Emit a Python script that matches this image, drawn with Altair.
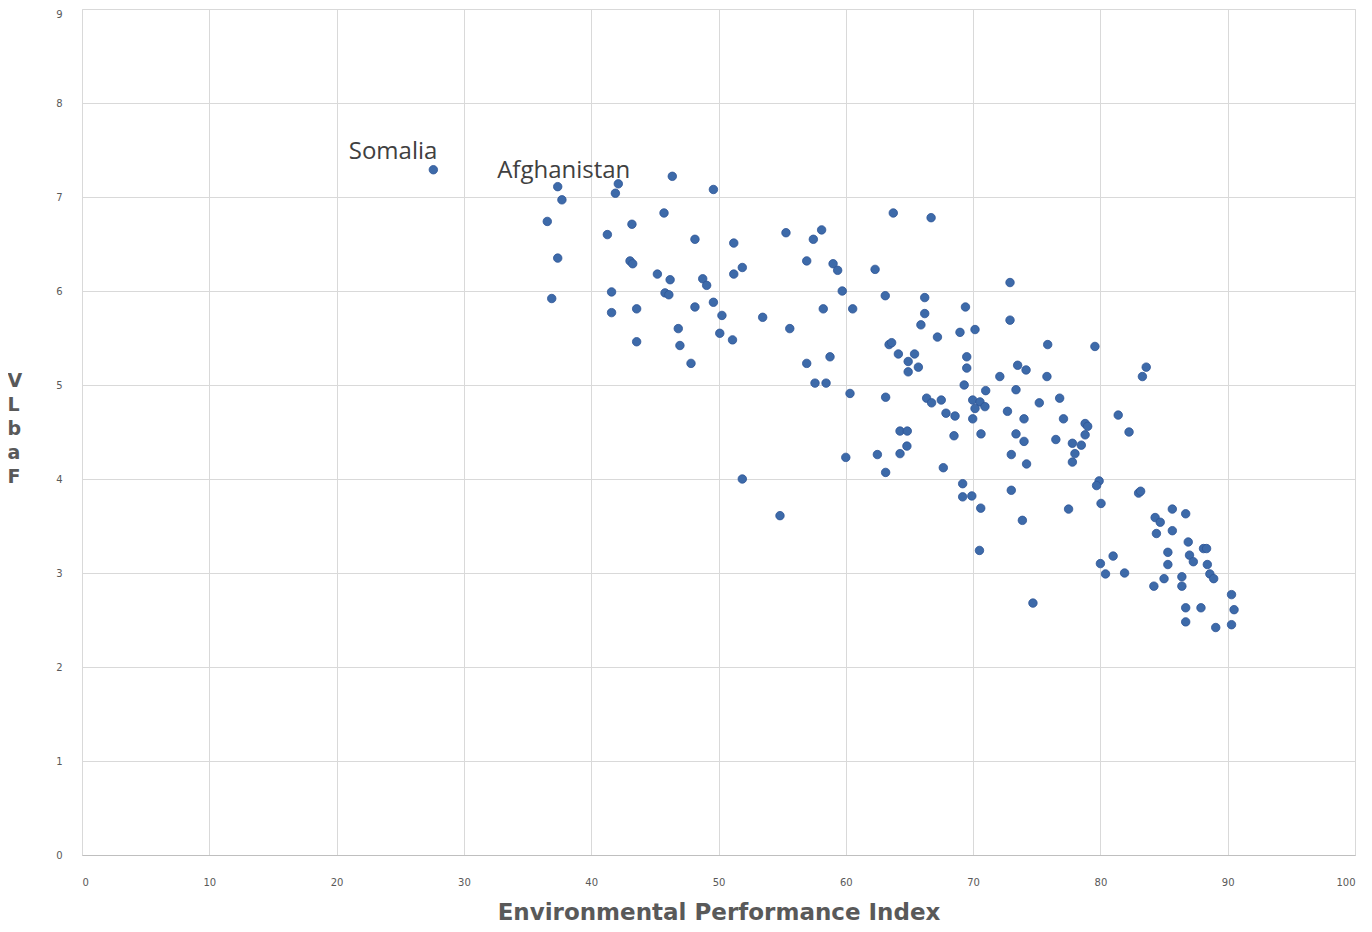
import altair as alt
import pandas as pd

# Environmental Performance Index (x) vs. index value (y)
epi = [27.6, 37.37, 37.7, 36.55, 37.37, 36.9, 42.13, 41.9, 43.2, 41.27,
       43.05, 43.26, 41.6, 43.57, 41.6, 46.37, 49.6, 45.72, 48.15, 51.2,
       45.2, 46.2, 48.76, 49.07, 51.2, 51.87, 45.8, 46.1, 48.15, 49.6,
       50.27, 53.47, 55.6, 46.84, 43.57, 46.97, 50.1, 51.1, 47.84, 55.3,
       57.45, 58.1, 56.93, 59.0, 59.36, 59.72, 60.54, 58.23, 62.3, 63.73,
       66.7, 63.1, 66.2, 66.2, 65.9, 67.2, 69.4, 68.97, 70.15, 58.76,
       56.93, 63.4, 63.6, 64.13, 64.9, 65.4, 65.7, 64.9, 57.58, 58.45,
       60.33, 63.13, 69.5, 69.5, 69.3, 66.35, 66.74, 67.5, 67.87, 68.58,
       69.97, 70.54, 70.15, 70.93, 70.99, 69.97, 72.1, 73.5, 74.16, 75.86,
       75.8, 73.37, 75.2, 72.7, 74.0, 73.37, 74.0, 73.0, 74.2, 70.62,
       68.5, 64.26, 64.83, 64.8, 64.26, 62.48, 60.0, 63.13, 67.66, 69.18,
       69.18, 69.9, 70.6, 73.0, 73.87, 70.5, 51.87, 54.83, 72.9, 72.9,
       79.57, 83.6, 83.3, 76.8, 77.1, 78.8, 79.0, 78.8, 77.8, 78.5,
       78.0, 77.8, 81.4, 82.25, 76.5, 77.5, 79.9, 79.7, 80.05, 83.0,
       83.16, 81.0, 80.0, 85.65, 86.7, 84.3, 84.7, 84.4, 85.65, 86.9,
       88.1, 88.34, 87.0, 87.3, 85.3, 85.3, 88.4, 88.6, 88.9, 80.4,
       81.9, 85.0, 84.2, 86.4, 86.4, 86.7, 87.9, 86.7, 89.06, 90.3,
       90.5, 90.3, 74.7]

value = [7.29, 7.11, 6.97, 6.74, 6.35, 5.92, 7.14, 7.04, 6.71, 6.6,
         6.32, 6.29, 5.99, 5.81, 5.77, 7.22, 7.08, 6.83, 6.55, 6.51,
         6.18, 6.12, 6.13, 6.06, 6.18, 6.25, 5.98, 5.96, 5.83, 5.88,
         5.74, 5.72, 5.6, 5.6, 5.46, 5.42, 5.55, 5.48, 5.23, 6.62,
         6.55, 6.65, 6.32, 6.29, 6.22, 6.0, 5.81, 5.81, 6.23, 6.83,
         6.78, 5.95, 5.93, 5.76, 5.64, 5.51, 5.83, 5.56, 5.59, 5.3,
         5.23, 5.43, 5.45, 5.33, 5.25, 5.33, 5.19, 5.14, 5.02, 5.02,
         4.91, 4.87, 5.3, 5.18, 5.0, 4.86, 4.81, 4.84, 4.7, 4.67,
         4.84, 4.82, 4.75, 4.77, 4.94, 4.64, 5.09, 5.21, 5.16, 5.43,
         5.09, 4.95, 4.81, 4.72, 4.64, 4.48, 4.4, 4.26, 4.16, 4.48,
         4.46, 4.51, 4.51, 4.35, 4.27, 4.26, 4.23, 4.07, 4.12, 3.95,
         3.81, 3.82, 3.69, 3.88, 3.56, 3.24, 4.0, 3.61, 6.09, 5.69,
         5.41, 5.19, 5.09, 4.86, 4.64, 4.59, 4.56, 4.47, 4.38, 4.36,
         4.27, 4.18, 4.68, 4.5, 4.42, 3.68, 3.98, 3.93, 3.74, 3.85,
         3.87, 3.18, 3.1, 3.68, 3.63, 3.59, 3.54, 3.42, 3.45, 3.33,
         3.26, 3.26, 3.19, 3.12, 3.22, 3.09, 3.09, 2.99, 2.94, 2.99,
         3.0, 2.94, 2.86, 2.96, 2.86, 2.63, 2.63, 2.48, 2.42, 2.77,
         2.61, 2.45, 2.68]

label_names = ["Somalia", "Afghanistan"]
label_epi = [27.6, 42.13]
label_value = [7.29, 7.14]

x_ticks = [0, 10, 20, 30, 40, 50, 60, 70, 80, 90, 100]
y_ticks = [0, 1, 2, 3, 4, 5, 6, 7, 8, 9]

df = pd.DataFrame({"epi": epi, "value": value})
lab = pd.DataFrame({"name": label_names, "epi": label_epi, "value": label_value})

grey = "#595959"
xs = alt.Scale(domain=[0, 100], nice=False, zero=True)
ys = alt.Scale(domain=[0, 9], nice=False, zero=True)

x_axis = alt.Axis(values=x_ticks, format="d", title="Environmental Performance Index",
                  grid=True, gridColor="#d9d9d9", ticks=False,
                  domainColor="#bfbfbf", labelColor=grey, labelFontSize=10,
                  labelFont="DejaVu Sans", labelPadding=22,
                  titleFont="DejaVu Sans", titleFontSize=23, titleFontWeight="bold",
                  titleColor=grey, titleBaseline="alphabetic", titleY=64)
y_axis = alt.Axis(values=y_ticks, format="d", title=["V", "L", "b", "a", "F"],
                  grid=True, gridColor="#d9d9d9", ticks=False, domain=False,
                  labelColor=grey, labelFontSize=10, labelFont="DejaVu Sans",
                  labelPadding=20,
                  labelBaseline={"expr": "datum.value == 9 ? 'top' : 'middle'"},
                  titleAngle=0, titleFont="DejaVu Sans",
                  titleFontSize=19, titleFontWeight="bold", titleColor=grey,
                  titleLineHeight=24, titleX=-75, titleY=362,
                  titleAlign="left", titleBaseline="top")

points = alt.Chart(df).mark_circle(size=72, color="#3d6aa9", opacity=1,
                                   stroke="#2f5597", strokeWidth=0.8).encode(
    x=alt.X("epi:Q", scale=xs, axis=x_axis),
    y=alt.Y("value:Q", scale=ys, axis=y_axis),
)

somalia = alt.Chart(lab).transform_filter(alt.datum.name == "Somalia").mark_text(
    align="right", baseline="alphabetic", font="Open Sans", fontSize=24,
    color="#404040", dx=4, dy=-11).encode(
    x=alt.X("epi:Q", scale=xs), y=alt.Y("value:Q", scale=ys), text="name:N")

afghan = alt.Chart(lab).transform_filter(alt.datum.name == "Afghanistan").mark_text(
    align="right", baseline="alphabetic", font="Open Sans", fontSize=24,
    color="#404040", dx=12, dy=-6).encode(
    x=alt.X("epi:Q", scale=xs), y=alt.Y("value:Q", scale=ys), text="name:N")

chart = alt.layer(points, somalia, afghan).properties(
    width=1273, height=846,
    autosize=alt.AutoSizeParams(type="none"),
    padding={"left": 74, "top": 1, "right": 4, "bottom": 68},
).configure_view(stroke=None).configure(background="white")

chart.save("out.html", embed_options={"renderer": "svg", "actions": False})
